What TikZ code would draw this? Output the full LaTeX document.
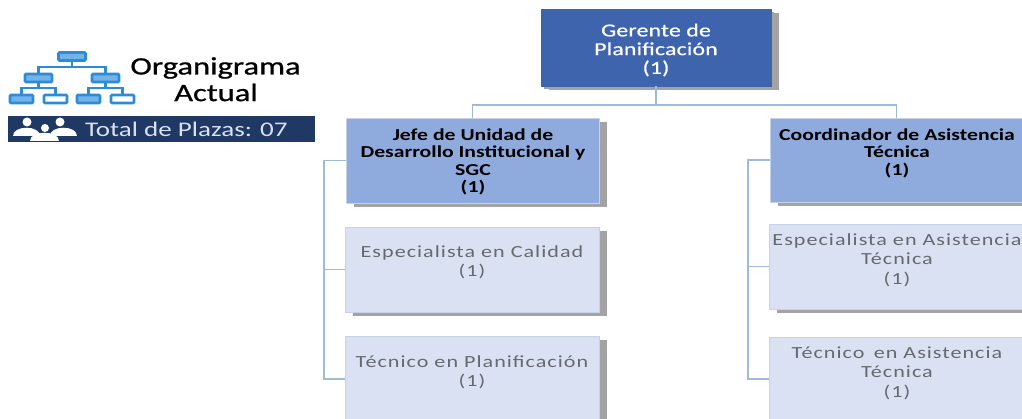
\documentclass[tikz,border=0pt]{standalone}
\usepackage{fontspec}
\setmainfont[FakeStretch=1.3]{Carlito}
\usetikzlibrary{shadows}
\definecolor{topblue}{HTML}{3E64AE}
\definecolor{midblue}{HTML}{8FAADC}
\definecolor{lightblue}{HTML}{DAE1F3}
\definecolor{barblue}{HTML}{1F3864}
\definecolor{iconblue}{HTML}{2E8BD8}
\definecolor{iconfill}{HTML}{74B3E8}
\definecolor{linkblue}{HTML}{9DBAD6}
\definecolor{edgeblue}{HTML}{C6D2E6}
\definecolor{shadowgray}{HTML}{A3A3A3}
\definecolor{graytext}{HTML}{666A70}
\tikzset{
  x=1pt,y=-1pt,
  orgbox/.style={draw=edgeblue,line width=.8pt,inner sep=0pt,outer sep=0pt,
    anchor=north west,
    copy shadow={shadow xshift=8pt,shadow yshift=-4pt,fill=shadowgray,draw=none}},
  topbox/.style={orgbox,fill=topblue,draw=topblue,
    copy shadow={shadow xshift=3pt,shadow yshift=-3pt,fill=shadowgray,draw=none}},
  chiefbox/.style={orgbox,fill=midblue},
  staffbox/.style={orgbox,fill=lightblue},
  boxlabel/.style={align=center,anchor=north,inner sep=0pt},
  toplabel/.style={boxlabel,text=white,font=\fontsize{18.3}{18.7}\selectfont\addfontfeature{LetterSpace=1,FakeBold=0.6}},
  chieflabel/.style={boxlabel,text=black,font=\fontsize{16.7}{17.4}\selectfont\bfseries},
  stafflabel/.style={boxlabel,text=graytext,font=\fontsize{17}{19.5}\selectfont\addfontfeature{LetterSpace=6}},
  titlelabel/.style={anchor=center,inner sep=0pt,text=black,font=\fontsize{25}{28}\selectfont\addfontfeature{FakeBold=0.8}},
  link/.style={draw=linkblue,line width=1.2pt},
  iconbox/.style={draw=iconblue,line width=2.6pt,rounded corners=1pt,inner sep=0pt,minimum width=27pt,minimum height=8pt,anchor=center},
  iconfull/.style={iconbox,fill=iconfill},
  iconempty/.style={iconbox,fill=white},
  iconlink/.style={draw=iconblue,line width=2.4pt},
}
\begin{document}
\begin{tikzpicture}
\useasboundingbox (0,0) rectangle (1022,419);
\clip (0,0) rectangle (1022,419);
% boxes
\node[topbox,minimum width=230pt,minimum height=77pt] (ger) at (541,9) {};
\node[chiefbox,minimum width=253pt,minimum height=85pt] (jefe) at (346,118) {};
\node[chiefbox,minimum width=253pt,minimum height=84pt] (coord) at (770,118) {};
\node[staffbox,minimum width=254pt,minimum height=85pt] (ecal) at (345,227) {};
\node[staffbox,minimum width=254pt,minimum height=85pt] (tplan) at (345,336) {};
\node[staffbox,minimum width=254pt,minimum height=85pt] (eat) at (769,224) {};
\node[staffbox,minimum width=254pt,minimum height=85pt] (tat) at (769,337) {};
% labels
\node[toplabel] (gerT) at (656,23.5) {Gerente de\\Planificación\\(1)};
\node[chieflabel] (jefeT) at (473,128.5) {Jefe de Unidad de\\Desarrollo Institucional y\\SGC\\(1)};
\node[chieflabel] (coordT) at (897,128.5) {Coordinador de Asistencia\\Técnica\\(1)};
\node[stafflabel] (ecalT) at (472,245) {Especialista en Calidad\\(1)};
\node[stafflabel] (tplanT) at (472,355) {Técnico en Planificación\\(1)};
\node[stafflabel] (eatT) at (897,233) {Especialista en Asistencia\\Técnica\\(1)};
\node[stafflabel] (tatT) at (897,346.5) {Técnico\hspace{.55em}en Asistencia\\Técnica\\(1)};
% connectors
\coordinate (bus) at (656,105);
\coordinate (spineL) at (324,379);
\coordinate (spineR) at (748,379);
\draw[link] (ger.south) -- (bus);
\draw[link] (jefe.north) |- (bus) -| (coord.north);
\draw[link] (jefe.west) -- (jefe.west -| spineL) -- (spineL) -- (tplan.west |- spineL);
\draw[link] (ecal.west) -- (ecal.west -| spineL);
\draw[link] (coord.west) -- (coord.west -| spineR) -- (spineR) -- (tat.west |- spineR);
\draw[link] (eat.west) -- (eat.west -| spineR);
% org icon
\node[iconfull] (i0) at (72,56.5) {};
\node[iconfull] (i1) at (38.5,78) {};
\node[iconfull] (i2) at (105.5,78) {};
\node[iconfull,minimum width=23pt] (i3) at (21.5,99) {};
\node[iconempty,minimum width=23pt] (i4) at (55.5,99) {};
\node[iconfull,minimum width=23pt] (i5) at (88.5,99) {};
\node[iconempty,minimum width=23pt] (i6) at (122.5,99) {};
\coordinate (j0) at (72,67);
\coordinate (j1) at (38.5,88);
\coordinate (j2) at (105.5,88);
\draw[iconlink] (i0.south) -- (j0);
\draw[iconlink] (i1.north) |- (j0) -| (i2.north);
\draw[iconlink] (i1.south) -- (j1);
\draw[iconlink] (i3.north) |- (j1) -| (i4.north);
\draw[iconlink] (i2.south) -- (j2);
\draw[iconlink] (i5.north) |- (j2) -| (i6.north);
% title
\node[titlelabel] (title1) at (215.5,68) {Organigrama};
\node[titlelabel] (title2) at (216,92.5) {Actual};
% bar
\fill[barblue] (8,116) rectangle (315,142);
\node[anchor=west,inner sep=0pt,text=lightblue,font=\fontsize{20.8}{22}\selectfont] (total) at (85,129) {Total de Plazas: 07};
% people icon
\fill[white] (27,122) circle (4.5);
\fill[white] (60,122) circle (4.5);
\fill[white] (45,128) circle (4);
\fill[white] (13,136) .. controls (13,125) and (40,125) .. (40,136) -- cycle;
\fill[white] (50,136) .. controls (50,125) and (77,125) .. (77,136) -- cycle;
\fill[white] (30,141.5) .. controls (30,130) and (59,130) .. (59,141.5) -- cycle;
\end{tikzpicture}
\end{document}
